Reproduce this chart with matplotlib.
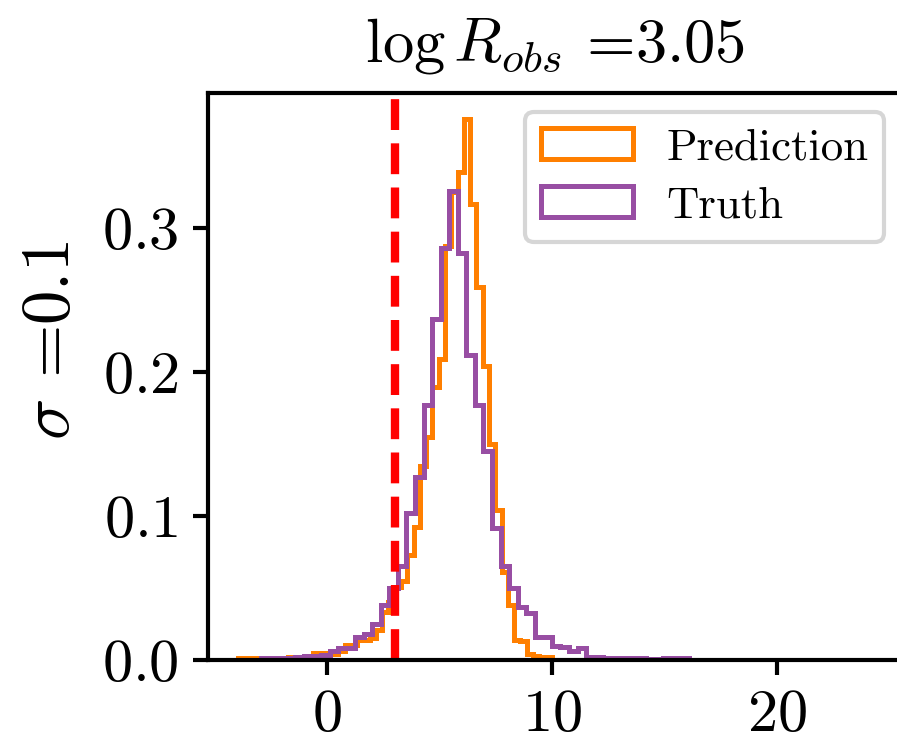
import numpy as np
import matplotlib
matplotlib.use('Agg')
import matplotlib.pyplot as plt

plt.rcParams['font.family'] = 'serif'
plt.rcParams['font.serif'] = ['cmr10']
plt.rcParams['mathtext.fontset'] = 'cm'
plt.rcParams['axes.formatter.use_mathtext'] = True

# histogram bins (range and count)
pred_range = (-3.96, 10.0)
truth_range = (-2.92, 16.08)
n_bins = 50

# density heights per bin
pred_heights = [0.0012, 0.0012, 0.0012, 0.0012, 0.0010, 0.0012, 0.0015, 0.0015, 0.0020, 0.0023,
                0.0023, 0.0030, 0.0046, 0.0046, 0.0040, 0.0040, 0.0060, 0.0104, 0.0104, 0.0139,
                0.0139, 0.0150, 0.0208, 0.0335, 0.0400, 0.0510, 0.0550, 0.0730, 0.0926, 0.1350,
                0.1550, 0.1900, 0.2095, 0.2880, 0.3250, 0.3390, 0.3760, 0.3170, 0.2590, 0.2040,
                0.1500, 0.1040, 0.0610, 0.0380, 0.0139, 0.0132, 0.0042, 0.0028, 0.0023, 0.0019]
truth_heights = [0.0015, 0.0015, 0.0015, 0.0015, 0.0020, 0.0030, 0.0030, 0.0035, 0.0065, 0.0080,
                 0.0080, 0.0160, 0.0180, 0.0250, 0.0380, 0.0500, 0.0650, 0.1020, 0.1270, 0.1770,
                 0.2370, 0.2860, 0.3260, 0.2830, 0.2120, 0.1770, 0.1450, 0.0920, 0.0650, 0.0500,
                 0.0370, 0.0330, 0.0160, 0.0160, 0.0100, 0.0090, 0.0060, 0.0080, 0.0023, 0.0023,
                 0.0016, 0.0016, 0.0016, 0.0016, 0.0016, 0.0010, 0.0007, 0.0015, 0.0015, 0.0015]
log_r_obs = 3.05
sigma = 0.1

pred_edges = np.linspace(pred_range[0], pred_range[1], n_bins + 1)
truth_edges = np.linspace(truth_range[0], truth_range[1], n_bins + 1)

fig = plt.figure(figsize=(897 / 300, 747 / 300), dpi=300)
ax = fig.add_axes([208 / 897, 1 - 660 / 747, 694 / 897, (660 - 93) / 747])

ax.hist(pred_edges[:-1], bins=pred_edges, weights=pred_heights, histtype='step',
        color='#ff7f00', lw=1.2, label='Prediction')
ax.hist(truth_edges[:-1], bins=truth_edges, weights=truth_heights, histtype='step',
        color='#984ea3', lw=1.2, label='Truth')
ax.axvline(log_r_obs, color='red', ls='--', lw=2)

ax.set_xlim(-5.28, 25.56)
ax.set_ylim(0, 0.394)
ax.set_xticks([0, 10, 20])
ax.set_yticks([0.0, 0.1, 0.2, 0.3])
ax.tick_params(labelsize=14.5, width=1.0, length=3.5)
for s in ax.spines.values():
    s.set_linewidth(1.0)

ax.set_title(r'$\log R_{obs}$ =%.2f' % log_r_obs, fontsize=15, pad=7.5)
ax.set_ylabel(r'$\sigma$ =%.1f' % sigma, fontsize=16.5)
ax.yaxis.set_label_coords(-0.182, 0.564)

ax.legend(loc='upper right', bbox_to_anchor=(884 / 897, 1 - 112 / 747),
          bbox_transform=fig.transFigure, borderaxespad=0, fontsize=10.75,
          labelspacing=0.4, borderpad=0.35, handlelength=2.05, handletextpad=0.75)

fig.savefig('out.png', dpi=300)
